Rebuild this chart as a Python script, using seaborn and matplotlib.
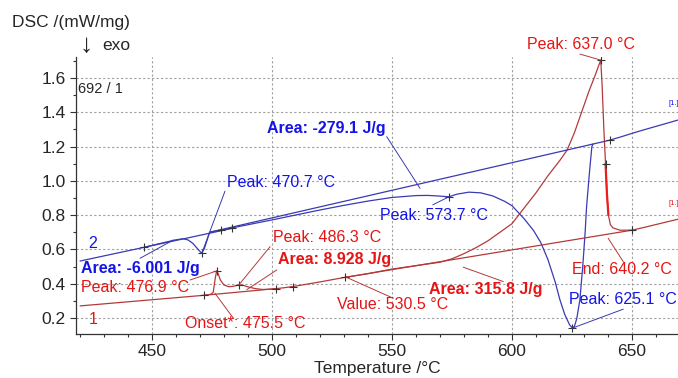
import numpy as np
import pandas as pd
import matplotlib
matplotlib.use("Agg")
import matplotlib.pyplot as plt
import seaborn as sns

# DSC curve 2 (blue), temperature in degC, signal in mW/mg
temp_2 = [420, 430, 440, 446.7, 452, 456, 460, 463, 465, 467, 469, 470.7, 471.8, 472.8,
          474, 476, 480, 490, 500, 510, 520, 530, 540, 550, 560, 565, 570, 573.7, 577,
          582, 587, 592, 597, 600, 605, 609, 612, 615, 618, 620, 622, 624, 625.1, 626,
          627, 628.3, 629.5, 630.5, 631.1, 632.3, 633.3, 633.8, 640, 645, 650, 655, 660,
          665, 669.2]
dsc_2 = [0.532, 0.562, 0.592, 0.612, 0.630, 0.643, 0.656, 0.662, 0.655, 0.635, 0.603, 0.577,
         0.605, 0.648, 0.700, 0.706, 0.716, 0.744, 0.772, 0.801, 0.830, 0.857, 0.882, 0.903,
         0.914, 0.915, 0.911, 0.907, 0.922, 0.934, 0.930, 0.912, 0.880, 0.855, 0.780, 0.710,
         0.640, 0.540, 0.410, 0.305, 0.220, 0.160, 0.142, 0.150, 0.195, 0.305, 0.500, 0.700,
         0.850, 1.050, 1.200, 1.215, 1.235, 1.255, 1.277, 1.298, 1.318, 1.338, 1.355]

# DSC curve 1 (red)
temp_1 = [420, 430, 440, 450, 460, 470, 473, 474.5, 475.5, 476.2, 476.9, 477.5, 478.5, 480,
          482, 484, 486.3, 488, 490, 493, 496, 500, 505, 510, 515, 520, 525, 530.5, 540,
          550, 560, 570, 575, 580, 585, 590, 595, 600, 605, 610, 615, 620, 623, 626, 629,
          632, 634.5, 637.0, 637.6, 638.3, 639.0, 639.6, 640.2, 641, 642, 645, 650, 655,
          660, 665, 669.2]
dsc_1 = [0.270, 0.282, 0.294, 0.306, 0.318, 0.330, 0.334, 0.338, 0.350, 0.420, 0.474, 0.460,
         0.420, 0.392, 0.382, 0.385, 0.393, 0.390, 0.381, 0.371, 0.366, 0.368, 0.376, 0.386,
         0.398, 0.410, 0.423, 0.437, 0.458, 0.485, 0.505, 0.525, 0.545, 0.575, 0.610, 0.650,
         0.700, 0.750, 0.840, 0.930, 1.030, 1.120, 1.180, 1.280, 1.400, 1.520, 1.610, 1.705,
         1.550, 1.300, 1.100, 0.920, 0.800, 0.745, 0.726, 0.712, 0.712, 0.728, 0.745, 0.762,
         0.776]

# evaluation baselines (temperature, value pairs)
base2_small_t = [446.7, 483.5]
base2_small_v = [0.612, 0.723]
base2_big_t = [474.0, 633.8]
base2_big_v = [0.700, 1.215]
base1_small_t = [471.7, 501.7]
base1_small_v = [0.332, 0.371]
base1_big_t = [530.5, 650.0]
base1_big_v = [0.437, 0.712]

# evaluation points marked with "+"
marks_2 = [446.7, 470.7, 478.6, 483.5, 573.7, 625.1, 640.8]
marks_1 = [471.7, 476.9, 486.3, 501.7, 508.6, 530.5, 637.0, 639.0, 650.0]

BLUE_LINE = "#3a3ab4"
RED_LINE = "#b43a3a"
BLUE_TXT = "#1414e6"
RED_TXT = "#e61414"

df = pd.concat([
    pd.DataFrame({"Temperature": temp_1, "DSC": dsc_1, "seg": "1"}),
    pd.DataFrame({"Temperature": temp_2, "DSC": dsc_2, "seg": "2"}),
])

sns.set_style("ticks")
plt.rcParams["font.family"] = ["Liberation Sans", "DejaVu Sans"]

fig = plt.figure(figsize=(6.78, 3.78), dpi=100)
ax = fig.add_axes([76 / 678, 1 - 334 / 378, 1 - 76 / 678, (334 - 57) / 378])

sns.lineplot(data=df, x="Temperature", y="DSC", hue="seg",
             palette={"1": RED_LINE, "2": BLUE_LINE}, estimator=None, sort=False,
             legend=False, linewidth=0.9, ax=ax)

for bt, bv, c in [(base2_small_t, base2_small_v, BLUE_LINE), (base2_big_t, base2_big_v, BLUE_LINE),
                  (base1_small_t, base1_small_v, RED_LINE), (base1_big_t, base1_big_v, RED_LINE)]:
    ax.plot(bt, bv, color=c, lw=0.9)

# highlighted part of the steep fall used for the end evaluation
end_seg = df[(df.seg == "1") & (df.Temperature >= 639.0) & (df.Temperature <= 640.2)]
ax.plot(end_seg.Temperature, end_seg.DSC, color="#ee1c1c", lw=1.6)

# "+" markers at evaluation points
ax.plot(marks_2, np.interp(marks_2, temp_2, dsc_2), "+", color="#333333", ms=6, mew=0.8)
ax.plot(marks_1, np.interp(marks_1, temp_1, dsc_1), "+", color="#333333", ms=6, mew=0.8)

ax.set_xlim(418.3, 669.2)
ax.set_ylim(0.106, 1.723)
ax.set_xticks([450, 500, 550, 600, 650])
ax.set_xticks(np.arange(420, 670, 10), minor=True)
ax.set_yticks([0.2, 0.4, 0.6, 0.8, 1.0, 1.2, 1.4, 1.6])
ax.set_yticks(np.arange(0.2, 1.71, 0.1), minor=True)
ax.set_yticklabels(["0.2", "0.4", "0.6", "0.8", "1.0", "1.2", "1.4", "1.6"])
ax.grid(True, which="major", color="#a0a0a0", linestyle=(0, (2, 2)), linewidth=0.8)
ax.tick_params(which="major", length=4, width=0.8, labelsize=12.5, color="#333333")
ax.tick_params(which="minor", length=2, width=0.8, color="#333333")
sns.despine(ax=ax)
for s in ["left", "bottom"]:
    ax.spines[s].set_color("#333333")
    ax.spines[s].set_linewidth(0.9)
ax.set_xlabel("Temperature /°C", fontsize=12.5, labelpad=1)
ax.set_ylabel("")

fig.text(12 / 678, 1 - 22 / 378, "DSC /(mW/mg)", fontsize=12.5, va="center", ha="left")
fig.text(80 / 678, 1 - 45 / 378, "↓", fontsize=19, va="center", ha="left")
fig.text(102 / 678, 1 - 45 / 378, "exo", fontsize=12.5, va="center", ha="left")
ax.text(419.3, 1.534, "692 / 1", fontsize=10.5, va="center", ha="left")

# annotations: (text, x, y, colour, bold)
labels = [
    ("Area: -279.1 J/g", 497.9, 1.308, BLUE_TXT, True),
    ("Peak: 470.7 °C", 481.3, 0.993, BLUE_TXT, False),
    ("2", 423.3, 0.637, BLUE_TXT, False),
    ("Area: -6.001 J/g", 420.4, 0.491, BLUE_TXT, True),
    ("Peak: 476.9 °C", 420.4, 0.375, RED_TXT, False),
    ("1", 423.8, 0.188, RED_TXT, False),
    ("Onset*: 475.5 °C", 463.8, 0.165, RED_TXT, False),
    ("Peak: 486.3 °C", 500.4, 0.672, RED_TXT, False),
    ("Area: 8.928 J/g", 502.5, 0.538, RED_TXT, True),
    ("Value: 530.5 °C", 527.1, 0.276, RED_TXT, False),
    ("Area: 315.8 J/g", 565.6, 0.363, RED_TXT, True),
    ("Peak: 573.7 °C", 545.0, 0.800, BLUE_TXT, False),
    ("Peak: 637.0 °C", 606.1, 1.797, RED_TXT, False),
    ("End: 640.2 °C", 624.9, 0.480, RED_TXT, False),
    ("Peak: 625.1 °C", 623.8, 0.309, BLUE_TXT, False),
]
for txt, x, y, c, b in labels:
    ax.text(x, y, txt, color=c, fontsize=11.5, fontweight="bold" if b else "normal",
            va="center", ha="left", clip_on=False)

ax.text(665.4, 1.45, "[1.]", color=BLUE_TXT, fontsize=5.5, va="center", ha="left", clip_on=False)
ax.text(665.4, 0.868, "[1.]", color=RED_TXT, fontsize=5.5, va="center", ha="left", clip_on=False)

# leader lines: (label-end point, curve point, colour)
leaders = [
    ((547.8, 1.258), (561.7, 0.956), BLUE_LINE),
    ((480.4, 0.940), (470.7, 0.577), BLUE_LINE),
    ((445.0, 0.548), (458.9, 0.655), BLUE_LINE),
    ((465.8, 0.421), (476.9, 0.474), RED_LINE),
    ((483.9, 0.198), (476.2, 0.344), RED_LINE),
    ((499.2, 0.616), (486.3, 0.395), RED_LINE),
    ((502.0, 0.480), (489.5, 0.365), RED_LINE),
    ((550.5, 0.315), (531.0, 0.437), RED_LINE),
    ((596.4, 0.412), (579.7, 0.496), RED_LINE),
    ((567.0, 0.860), (573.7, 0.907), BLUE_LINE),
    ((628.3, 1.740), (637.0, 1.705), RED_LINE),
    ((646.4, 0.528), (640.1, 0.665), RED_LINE),
    ((646.4, 0.251), (625.1, 0.140), BLUE_LINE),
]
for start, end, c in leaders:
    ax.annotate("", xy=end, xytext=start, annotation_clip=False,
                arrowprops=dict(arrowstyle="-", color=c, lw=0.7, shrinkA=0, shrinkB=0))

fig.savefig("out.png", dpi=100)
